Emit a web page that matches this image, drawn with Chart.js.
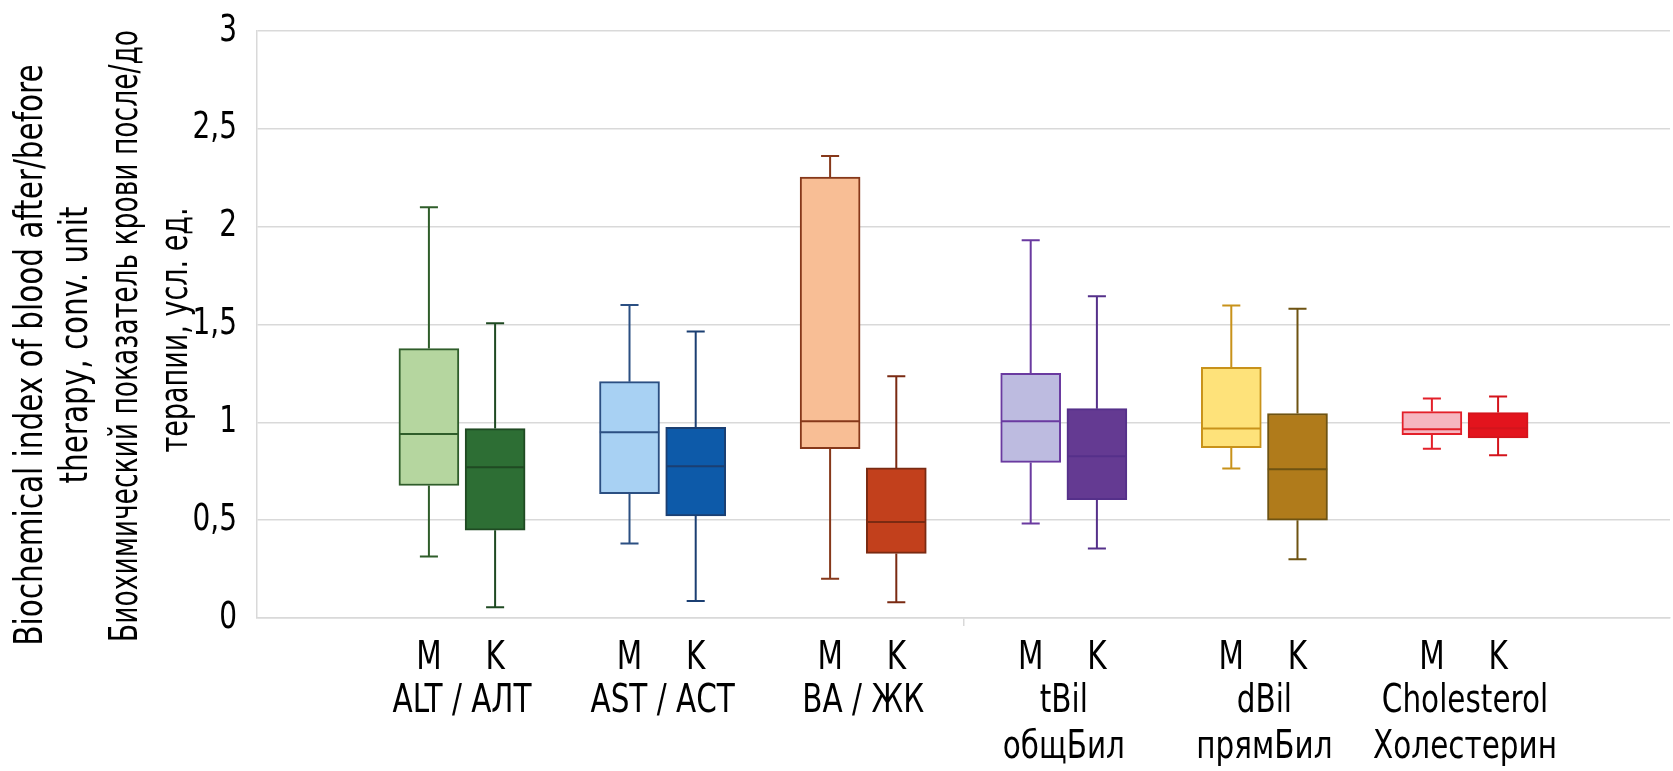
<!DOCTYPE html>
<html>
<head>
<meta charset="utf-8">
<script src="https://cdn.jsdelivr.net/npm/chart.js@4"></script>
<style>
  html, body { margin: 0; padding: 0; background: #fff; }
  #wrap { width: 1673px; height: 771px; }
</style>
</head>
<body>
<div id="wrap"><canvas id="grafico"></canvas></div>
<script>
// Dados do gráfico
const grupos = ['ALT / АЛТ', 'AST / АСТ', 'BA / ЖК', ['tBil', 'общБил'], ['dBil', 'прямБил'], ['Cholesterol', 'Холестерин']];
const subgrupos = ['M', 'K'];
const yTicks = [0, 0.5, 1, 1.5, 2, 2.5, 3];

// uma entrada por caixa: M, K, M, K ...
const bigodeMin = [0.314, 0.055, 0.381, 0.087, 0.20, 0.08, 0.483, 0.355, 0.764, 0.30, 0.865, 0.832];
const quartil1  = [0.677, 0.449, 0.636, 0.522, 0.865, 0.33, 0.795, 0.605, 0.87, 0.50, 0.937, 0.92];
const mediana   = [0.94, 0.77, 0.949, 0.776, 1.005, 0.49, 1.005, 0.827, 0.968, 0.76, 0.965, 0.97];
const quartil3  = [1.377, 0.968, 1.208, 0.975, 2.253, 0.767, 1.25, 1.07, 1.281, 1.045, 1.055, 1.05];
const bigodeMax = [2.099, 1.507, 1.60, 1.464, 2.361, 1.235, 1.93, 1.645, 1.597, 1.58, 1.122, 1.132];

// Cores
const preenchimento = ['#b5d69f', '#2d6e34', '#a8d1f3', '#0d5aa9', '#f8be95', '#c2401c', '#bdbbe0', '#643a92', '#fee27a', '#b07b1b', '#f6b6c0', '#e3141d'];
const contorno      = ['#2f5d2a', '#1f4a22', '#2b4f82', '#1b3f72', '#86381a', '#7a2a12', '#6a3aa0', '#55308a', '#c8921a', '#6e5312', '#e3202a', '#d4141c'];

const fonte = "'DejaVu Sans Condensed', 'DejaVu Sans', sans-serif";

// fonte da figura é bem estreita: comprime o texto na horizontal
const escalaX = 0.84;
const fillTextOriginal = CanvasRenderingContext2D.prototype.fillText;
CanvasRenderingContext2D.prototype.fillText = function (t, x, y, w) {
  this.save();
  this.scale(escalaX, 1);
  if (w === undefined) fillTextOriginal.call(this, t, x / escalaX, y);
  else fillTextOriginal.call(this, t, x / escalaX, y, w / escalaX);
  this.restore();
};

// posições no eixo x: grupo i em i+1, M/K deslocados
const desloc = 0.165;
const meiaCaixa = 0.148;
const meiaTampa = 0.045;
const posX = [];
grupos.forEach((g, i) => { posX.push(i + 1 - desloc, i + 1 + desloc); });

// Caixas (barras flutuantes)
const caixas = {
  type: 'bar',
  order: 2,
  data: posX.map((x, i) => ({ x, y: [quartil1[i], quartil3[i]] })),
  backgroundColor: preenchimento,
  borderColor: contorno,
  borderWidth: 2,
  borderSkipped: false,
  barThickness: 60
};

// Bigodes, tampas e mediana de cada caixa
const linhas = posX.map((x, i) => ({
  type: 'line',
  order: 1,
  data: [
    { x: x - meiaTampa, y: bigodeMax[i] }, { x: x + meiaTampa, y: bigodeMax[i] }, { x, y: null },
    { x, y: bigodeMax[i] }, { x, y: quartil3[i] }, { x, y: null },
    { x, y: quartil1[i] }, { x, y: bigodeMin[i] }, { x, y: null },
    { x: x - meiaTampa, y: bigodeMin[i] }, { x: x + meiaTampa, y: bigodeMin[i] }, { x, y: null },
    { x: x - meiaCaixa, y: mediana[i] }, { x: x + meiaCaixa, y: mediana[i] }
  ],
  borderColor: contorno[i],
  borderWidth: 2,
  pointRadius: 0,
  tension: 0,
  spanGaps: false,
  fill: false
}));

// Título do eixo y em quatro linhas: texto, x, y, largura máxima
const tituloY = {
  id: 'tituloY',
  afterDraw(chart) {
    const ctx = chart.ctx;
    const linhasTitulo = [
      ['Biochemical index of blood after/before', 32, 355, 590],
      ['therapy, conv. unit', 77, 345, 280],
      ['Биохимический показатель крови после/до', 127, 336, 612],
      ['терапии, усл. ед.', 177, 330, 245]
    ];
    ctx.save();
    ctx.fillStyle = '#000';
    ctx.font = '39px ' + fonte;
    ctx.textAlign = 'center';
    ctx.textBaseline = 'middle';
    linhasTitulo.forEach(([t, x, y, w]) => {
      ctx.save();
      ctx.translate(x, y);
      ctx.rotate(-Math.PI / 2);
      ctx.fillText(t, 0, 0, w);
      ctx.restore();
    });
    ctx.restore();
  }
};

const ctx = document.getElementById('grafico').getContext('2d');
new Chart(ctx, {
  data: { datasets: [caixas, ...linhas] },
  options: {
    responsive: true,
    maintainAspectRatio: false,
    animation: false,
    layout: { padding: { top: 31, right: 3, left: 0, bottom: 0 } },
    plugins: {
      legend: { display: false },
      tooltip: { enabled: false }
    },
    scales: {
      x: {
        type: 'linear',
        offset: false,
        min: -0.022,
        max: 7.022,
        afterBuildTicks: s => { s.ticks = posX.map(v => ({ value: v })).concat([{ value: 3.5 }]); },
        afterFit: s => { s.height = 52; },
        ticks: {
          autoSkip: false,
          maxRotation: 0,
          color: '#000',
          padding: 9,
          font: { family: fonte, size: 39 },
          callback: (v) => {
            const i = posX.indexOf(v);
            return i < 0 ? '' : subgrupos[i % 2];
          }
        },
        grid: {
          offset: false,
          drawOnChartArea: false,
          tickLength: 8,
          lineWidth: 1.5,
          color: c => (c.tick && c.tick.value === 3.5 ? '#d9d9d9' : 'rgba(0,0,0,0)')
        },
        border: { display: true, color: '#d9d9d9', width: 1.5 }
      },
      x2: {
        type: 'linear',
        position: 'bottom',
        offset: false,
        min: -0.022,
        max: 7.022,
        afterBuildTicks: s => { s.ticks = grupos.map((g, i) => ({ value: i + 1 })); },
        afterFit: s => { s.height = 101; },
        ticks: {
          autoSkip: false,
          maxRotation: 0,
          color: '#000',
          padding: 0,
          font: { family: fonte, size: 39, lineHeight: 1.2 },
          callback: v => grupos[v - 1]
        },
        grid: { display: false },
        border: { display: false }
      },
      y: {
        min: 0,
        max: 3,
        afterBuildTicks: s => { s.ticks = yTicks.map(v => ({ value: v })); },
        afterFit: s => { s.width = 257; },
        ticks: {
          color: '#000',
          padding: 8,
          font: { family: fonte, size: 37 },
          callback: v => String(v).replace('.', ',')
        },
        grid: { color: '#d9d9d9', lineWidth: 1.5, drawTicks: true, tickLength: 12, tickColor: 'rgba(0,0,0,0)' },
        border: { display: true, color: '#d9d9d9', width: 1.5 }
      }
    }
  },
  plugins: [tituloY]
});
</script>
</body>
</html>
